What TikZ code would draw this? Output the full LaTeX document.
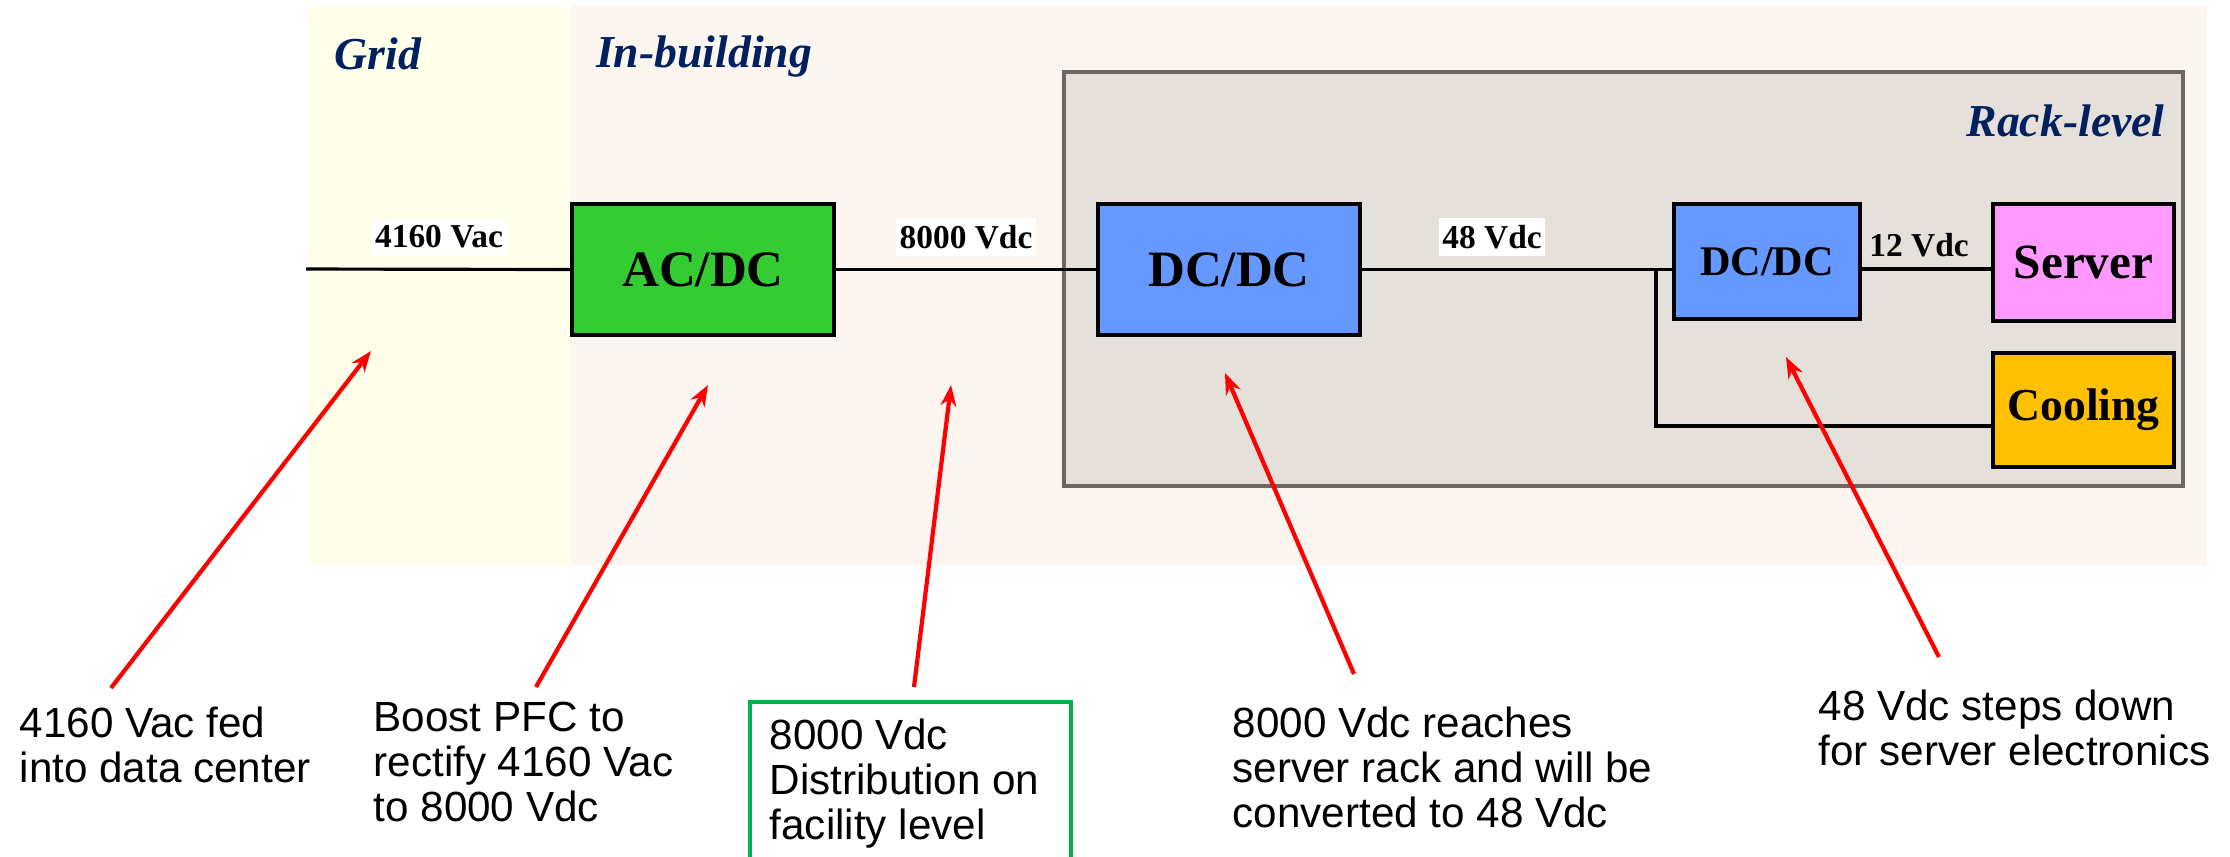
\documentclass[tikz,border=0pt]{standalone}
\usepackage{fontspec}
\setmainfont{Liberation Serif}
\setsansfont{Liberation Sans}
\usetikzlibrary{positioning, arrows, arrows.meta, shapes}
\definecolor{gridyellow}{HTML}{FFFFEA}
\definecolor{buildingpink}{HTML}{FDF5F0}
\definecolor{rackgray}{HTML}{E6E0DA}
\definecolor{rackedge}{HTML}{6F6660}
\definecolor{acdcgreen}{HTML}{33CC33}
\definecolor{dcdcblue}{HTML}{6699FF}
\definecolor{serverpink}{HTML}{FF99FF}
\definecolor{coolingorange}{HTML}{FFC000}
\definecolor{labelnavy}{HTML}{002060}
\definecolor{noteframe}{HTML}{00B050}
\tikzstyle{pointer} = [red,very thick,->,>={Stealth[length=6pt,width=4.5pt]}]

\begin{document}
\begin{tikzpicture}[x=0.01cm,y=-0.01cm]
                    \tikzstyle{block} = [draw=black, line width=1.2pt, font=\bfseries\fontsize{14.5}{16}\selectfont]
                    \tikzstyle{zone} = [font=\bfseries\itshape\fontsize{13}{15}\selectfont, text=labelnavy]
                    \tikzstyle{volt} = [fill=white, inner xsep=1pt, inner ysep=2pt, font=\bfseries\fontsize{9.5}{11}\selectfont]
                    \tikzstyle{note} = [anchor=north west, inner sep=0pt, align=left, font=\sffamily\fontsize{12}{12.8}\selectfont]
                    \tikzstyle{wire} = [line width=0.9pt]

                    \useasboundingbox (0,0) rectangle (2230,856);
                    % zones behind the chain
                    \fill[gridyellow] (309,6) rectangle (571,565);
                    \fill[buildingpink] (571,6) rectangle (2207,565);
                    \draw[rackedge, fill=rackgray, line width=1pt] (1064,72) rectangle (2183,486);

                    \node[zone](grid) at (378,54) {Grid};
                    \node[zone](building) at (704,56) {In-building};
                    \node[zone, anchor=east](rack) at (2177,121) {Rack-level};

                    % converters and loads
                    \node[block, fill=acdcgreen, minimum width=2.62cm, minimum height=1.31cm](acdc) at (703,269.5) {AC/DC};
                    \node[block, fill=dcdcblue, minimum width=2.62cm, minimum height=1.31cm](dcdcmain) at (1229,269.5) {DC/DC};
                    \node[block, fill=dcdcblue, minimum width=1.86cm, minimum height=1.15cm, font=\bfseries\fontsize{12}{14}\selectfont](dcdcsmall) at (1767,261.5) {DC/DC};
                    \node[block, fill=serverpink, minimum width=1.81cm, minimum height=1.17cm, font=\bfseries\fontsize{14}{16}\selectfont](server) at (2083.5,262.5) {Server};
                    \node[block, fill=coolingorange, minimum width=1.81cm, minimum height=1.14cm, font=\bfseries\fontsize{13}{15}\selectfont](cooling) at (2083.5,410) {Cooling};

                    % wiring
                    \coordinate (feed) at (306,269);
                    \coordinate (tap) at (1656,269);
                    \draw[wire] (feed) -- (acdc.west);
                    \draw[wire] (acdc.east) -- (dcdcmain.west);
                    \draw[wire] (dcdcmain.east) -- (dcdcmain.east -| dcdcsmall.west);
                    \draw[wire] (dcdcsmall.east |- tap) -- (server.west |- tap);
                    \draw[wire] (tap) |- ([yshift=-0.16cm]cooling.west);

                    \node[volt](vac) at (439,237) {4160 Vac};
                    \node[volt](vdc) at (966,237) {8000 Vdc};
                    \node[volt](v48) at (1492,237) {48 Vdc};
                    \node[volt, fill=none](v12) at (1919,245) {12 Vdc};

                    % notes below
                    \node[note](feednote) at (19,706) {4160 Vac fed\\into data center};
                    \node[note](pfcnote) at (373,701) {Boost PFC to\\rectify 4160 Vac\\to 8000 Vdc};
                    \draw[noteframe, line width=0.9pt] (750,880) -- (750,702) -- (1071,702) -- (1071,880);
                    \node[note](distnote) at (769,718) {8000 Vdc\\Distribution on\\facility level};
                    \node[note](racknote) at (1232,706) {8000 Vdc reaches\\server rack and will be\\converted to 48 Vdc};
                    \node[note](boardnote) at (1818,689) {48 Vdc steps down\\for server electronics};

                    \coordinate (a1) at (111,688);  \coordinate (t1) at (371,351);
                    \coordinate (a2) at (536,687);  \coordinate (t2) at (708,385);
                    \coordinate (a3) at (914,687);  \coordinate (t3) at (951,385);
                    \coordinate (a4) at (1354,674); \coordinate (t4) at (1225,373);
                    \coordinate (a5) at (1939,657); \coordinate (t5) at (1786,357);
                    \draw[pointer] (a1) -- (t1);
                    \draw[pointer] (a2) -- (t2);
                    \draw[pointer] (a3) -- (t3);
                    \draw[pointer] (a4) -- (t4);
                    \draw[pointer] (a5) -- (t5);
\end{tikzpicture}
\end{document}
